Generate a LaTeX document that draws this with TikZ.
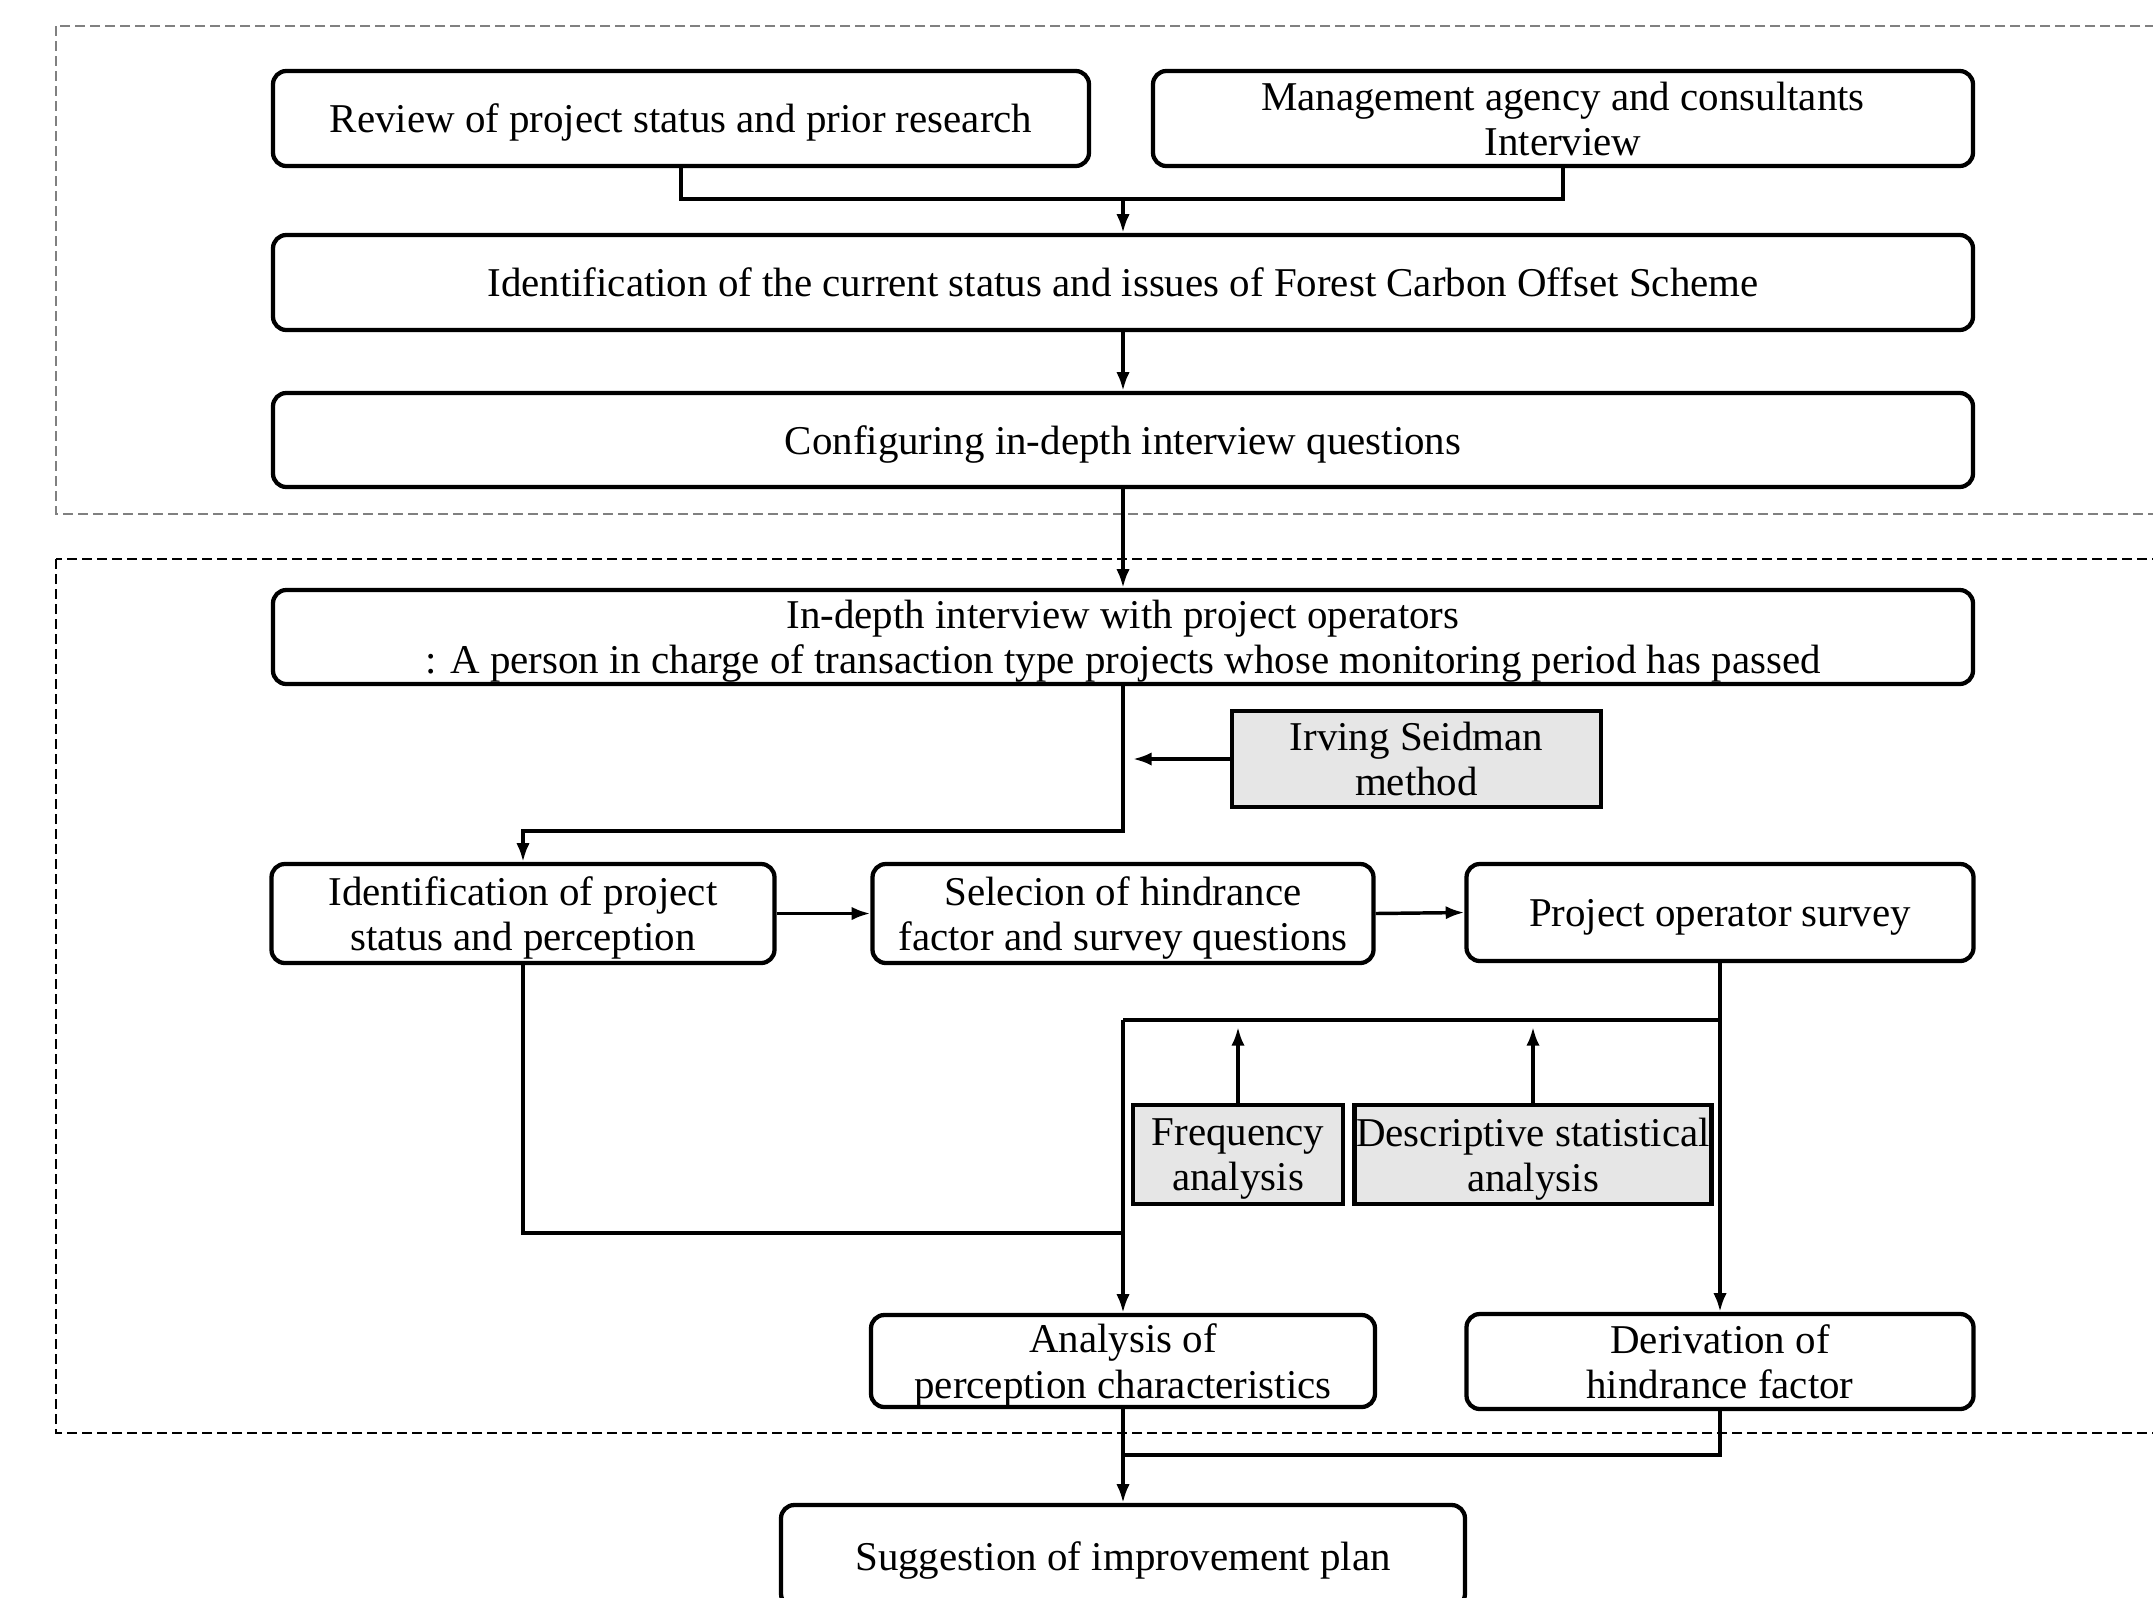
\documentclass[tikz,border=0pt]{standalone}
\usepackage{fontspec}
\setmainfont{Liberation Serif}
\usetikzlibrary{arrows.meta}

\tikzset{every picture/.style={line width=0.75pt}}
\tikzset{
  rbox/.style={draw, rounded corners=10pt, line width=3.2pt, align=center, inner sep=0pt,
    text depth=0pt, font=\fontsize{30.7}{34}\selectfont},
  gbox/.style={draw, fill={rgb, 255:red, 230; green, 230; blue, 230 }, line width=3.2pt,
    align=center, inner sep=0pt, text depth=0pt, font=\fontsize{30.7}{34}\selectfont},
  conn/.style={line width=2.6pt},
  arr/.style={conn, -{Latex[length=14pt,width=10pt]}},
}

\begin{document}
\begin{tikzpicture}[x=0.75pt,y=0.75pt,yscale=-1,xscale=1]
\useasboundingbox (0,0) rectangle (2153,1597);

%Dashed Rectangles
\draw [color={rgb, 255:red, 128; green, 128; blue, 128 }, line width=2.2pt, dash pattern=on 7.5pt off 3.75pt] (56,26) rectangle (2230,514);
\draw [line width=2.2pt, dash pattern=on 7.5pt off 3.75pt] (56,559) rectangle (2230,1433);

% Text Node
\node [rbox, minimum width=612pt, minimum height=71.25pt] (rev) at (681,118.5) {Review of project status and prior research};
\node [rbox, minimum width=615pt, minimum height=71.25pt] (mgmt) at (1563,118.5) {Management agency and consultants\\Interview};
\node [rbox, minimum width=1275pt, minimum height=71.25pt] (cur) at (1123,282.5) {Identification of the current status and issues of Forest Carbon Offset Scheme};
\node [rbox, minimum width=1275pt, minimum height=70.5pt] (cfg) at (1123,440) {Configuring in-depth interview questions};
\node [rbox, minimum width=1275pt, minimum height=70.5pt] (idi) at (1123,637) {In-depth interview with project operators\\: A person in charge of transaction type projects whose monitoring period has passed};
\node [gbox, minimum width=276.75pt, minimum height=72pt] (irv) at (1416.5,759) {Irving Seidman\\method};
\node [rbox, minimum width=377.25pt, minimum height=74.25pt] (ips) at (523,913.5) {Identification of project\\status and perception};
\node [rbox, minimum width=375.75pt, minimum height=74.25pt] (sel) at (1123,913.5) {Selecion of hindrance\\factor and survey questions};
\node [rbox, minimum width=380.25pt, minimum height=72.75pt] (pos) at (1720,912.5) {Project operator survey};
\node [gbox, minimum width=157.5pt, minimum height=74.25pt] (frq) at (1238,1154.5) {Frequency\\analysis};
\node [gbox, minimum width=267.75pt, minimum height=74.25pt] (dsc) at (1533,1154.5) {Descriptive statistical\\analysis};
\node [rbox, minimum width=378pt, minimum height=69pt] (apc) at (1123,1361) {Analysis of\\perception characteristics};
\node [rbox, minimum width=380.25pt, minimum height=71.25pt] (der) at (1720,1361.5) {Derivation of\\hindrance factor};
\node [rbox, minimum width=513pt, minimum height=76.5pt] (sug) at (1123,1556) {Suggestion of improvement plan};

%Joints
\coordinate (j1) at (1123,199);
\coordinate (j2) at (1123,831);
\coordinate (j3) at (1720,1020);
\coordinate (j4) at (1123,1020);
\coordinate (j5) at (1123,1233);
\coordinate (j6) at (1123,1455);
\coordinate (t1) at (1133,759);
\coordinate (t2) at (1238,1027);
\coordinate (t3) at (1533,1027);

%Straight Lines
\draw [conn] (rev.south) |- (j1) -| (mgmt.south);
\draw [arr] (j1) -- (cur.north);
\draw [arr] (cur.south) -- (cfg.north);
\draw [arr] (cfg.south) -- (idi.north);
\draw [arr] (idi.south) -- (j2) -| (ips.north);
\draw [arr] (irv.west) -- (t1);
\draw [arr] (ips.east) -- (sel.west);
\draw [arr] (sel.east) -- (pos.west);
\draw [conn] (pos.south) -- (j3) -- (j4);
\draw [arr] (j3) -- (der.north);
\draw [arr] (j4) -- (apc.north);
\draw [conn] (ips.south) |- (j5);
\draw [arr] (frq.north) -- (t2);
\draw [arr] (dsc.north) -- (t3);
\draw [conn] (der.south) |- (j6);
\draw [arr] (apc.south) -- (sug.north);

\end{tikzpicture}
\end{document}
